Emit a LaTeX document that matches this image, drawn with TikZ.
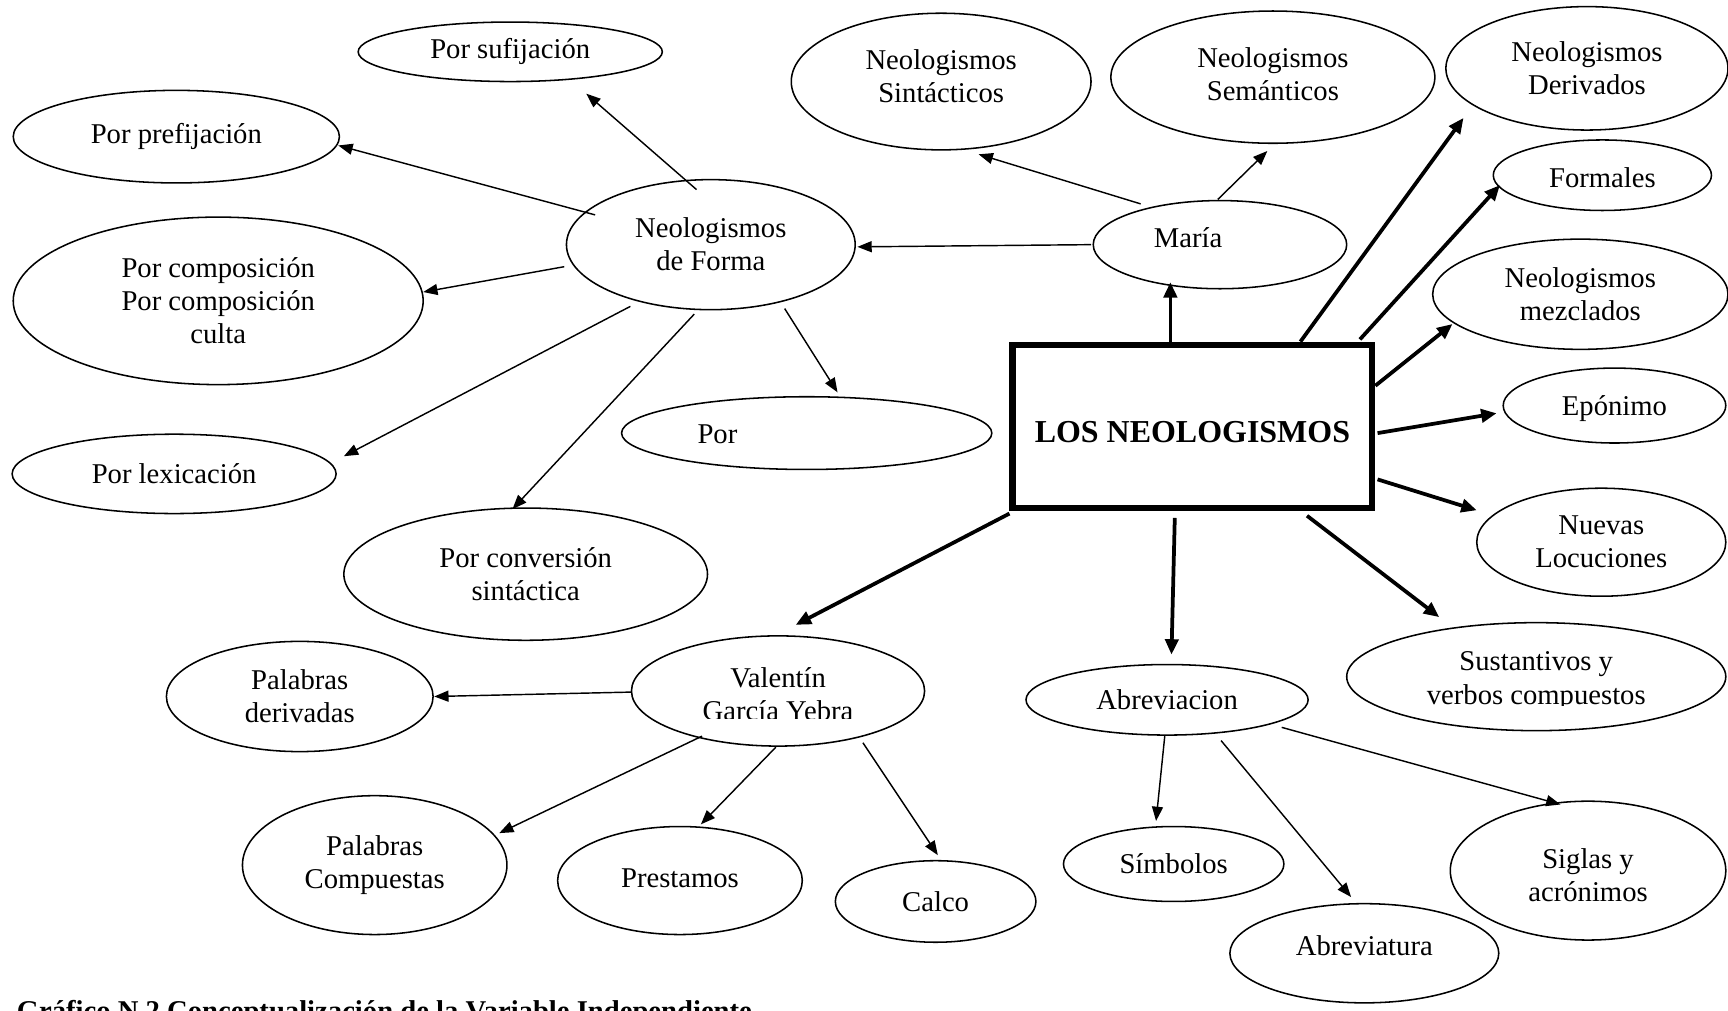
\documentclass[tikz,border=0pt]{standalone}
\usepackage{fontspec}
\setmainfont{Liberation Serif}
\usetikzlibrary{shapes.geometric,arrows.meta,calc}
\begin{document}
\begin{tikzpicture}[x=1pt,y=-1pt,
  bubble/.style={ellipse,draw,line width=1.4pt,inner sep=0pt,align=center,
    font=\fontsize{26}{30}\selectfont},
  txt/.style={font=\fontsize{26}{30}\selectfont,align=center,inner sep=0pt},
  thinarrow/.style={line width=1.3pt,-{Triangle[length=13pt,width=10pt]}},
  thickarrow/.style={line width=3.4pt,-{Triangle[length=14pt,width=12pt]}}]
\useasboundingbox (0,0) rectangle (1568,917);

% central box
\node[draw,line width=6pt,minimum width=326pt,minimum height=148pt,inner sep=0pt,
  label={[inner sep=0pt,font=\bfseries\fontsize{29}{30}\selectfont,yshift=-5pt]center:LOS NEOLOGISMOS}]
  (main) at (1082,387) {};

% left branch: formal neologisms
\node[bubble,minimum width=262pt,minimum height=118pt] (neoforma) at (645,222) {Neologismos\\de Forma};
\node[bubble,minimum width=276pt,minimum height=54pt] (sufij) at (463,47) {Por sufijación};
\node[bubble,minimum width=296pt,minimum height=84pt] (prefij) at (160,124) {Por prefijación};
\node[bubble,minimum width=372pt,minimum height=152pt] (compos) at (198,273) {Por composición\\Por composición\\culta};
\node[bubble,minimum width=294pt,minimum height=72pt] (lexic) at (158,430) {Por lexicación};
\node[bubble,minimum width=330pt,minimum height=120pt] (convers) at (477,521) {Por conversión\\sintáctica};
\node[bubble,minimum width=336pt,minimum height=66pt,
  label={[txt,xshift=-81pt,yshift=-1pt]center:Por}] (por) at (732,393) {};

% upper branch
\node[bubble,minimum width=230pt,minimum height=80pt,
  label={[txt,xshift=-29pt,yshift=6pt]center:María}] (maria) at (1107,222) {};
\node[bubble,minimum width=272pt,minimum height=124pt,
  label={[txt,yshift=5pt]center:{Neologismos\\Sintácticos}}] (sint) at (854,74) {};
\node[bubble,minimum width=294pt,minimum height=120pt,
  label={[txt,yshift=3pt]center:{Neologismos\\Semánticos}}] (sem) at (1155,70) {};

% right branch
\node[bubble,minimum width=256pt,minimum height=112pt] (deriv) at (1440,62) {Neologismos\\Derivados};
\node[bubble,minimum width=198pt,minimum height=64pt,
  label={[txt,yshift=-2pt]center:Formales}] (formales) at (1454,159) {};
\node[bubble,minimum width=268pt,minimum height=100pt] (mezcl) at (1434,267) {Neologismos\\mezclados};
\node[bubble,minimum width=202pt,minimum height=68pt,
  label={[txt,yshift=-3pt]center:Epónimo}] (epon) at (1465,368) {};
\node[bubble,minimum width=226pt,minimum height=98pt] (nuevas) at (1453,492) {Nuevas\\Locuciones};
\node[bubble,minimum width=344pt,minimum height=98pt,
  label={[txt,yshift=-4pt]center:{Sustantivos y\\verbos compuestos}}] (sust) at (1394,614) {};

% lower branch
\node[bubble,minimum width=266pt,minimum height=100pt,
  label={[txt,yshift=-3pt]center:{Valentín\\García Yebra}}] (valentin) at (706,627) {};
\node[bubble,minimum width=242pt,minimum height=100pt] (palderiv) at (272,632) {Palabras\\derivadas};
\node[bubble,minimum width=240pt,minimum height=126pt] (palcomp) at (340,785) {Palabras\\Compuestas};
\node[bubble,minimum width=222pt,minimum height=98pt,
  label={[txt,yshift=2pt]center:Prestamos}] (prest) at (617,799) {};
\node[bubble,minimum width=182pt,minimum height=74pt] (calco) at (849,818) {Calco};

\node[bubble,minimum width=256pt,minimum height=64pt] (abrev) at (1059,635) {Abreviacion};
\node[bubble,minimum width=200pt,minimum height=68pt] (simb) at (1065,784) {Símbolos};
\node[bubble,minimum width=244pt,minimum height=90pt,
  label={[txt,yshift=7pt]center:Abreviatura}] (abrevtura) at (1238,865) {};
\node[bubble,minimum width=250pt,minimum height=126pt,
  label={[txt,yshift=-4pt]center:{Siglas y\\acrónimos}}] (siglas) at (1441,790) {};

% text boxes that trim the lower edge of their lines
\fill[white] (632,652) rectangle (780,664);
\fill[white] (1292,641) rectangle (1494,650);

% clipped caption
\begin{scope}
\clip (0,0) rectangle (1568,917);
\node[anchor=base west,inner sep=0pt,font=\bfseries\fontsize{26}{30}\selectfont] (caption) at (15,926)
  {Gráfico N 2 Conceptualización de la Variable Independiente};
\end{scope}

% connectors from "Neologismos de Forma"
\draw[thinarrow] ($(neoforma)+(-13,-50)$) -- ($(sufij)+(69,38)$);
\draw[thinarrow] ($(neoforma)+(-105,-27)$) -- ($(prefij)+(147,8)$);
\draw[thinarrow] ($(neoforma)+(-133,20)$) -- ($(compos)+(186,-8)$);
\draw[thinarrow] ($(neoforma)+(-73,56)$) -- ($(lexic)+(154,-16)$);
\draw[thinarrow] ($(neoforma)+(-15,63)$) -- ($(convers)+(-12,-59)$);
\draw[thinarrow] ($(neoforma)+(67,58)$) -- ($(por)+(28,-37)$);

% connectors from "María"
\draw[thinarrow] ($(maria)+(-117,0)$) -- ($(neoforma)+(133,2)$);
\draw[thinarrow] ($(maria)+(-72,-37)$) -- ($(sint)+(34,66)$);
\draw[thinarrow] ($(maria)+(-2,-41)$) -- ($(sem)+(-5,67)$);

% connectors from the central box
\draw[thickarrow] ($(main)+(-20,-77)$) -- ($(maria)+(-45,34)$);
\draw[thickarrow] ($(main)+(98,-77)$) -- ($(deriv)+(-112,45)$);
\draw[thickarrow] ($(main)+(152,-79)$) -- ($(formales)+(-93,9)$);
\draw[thickarrow] ($(main)+(166,-37)$) -- ($(mezcl)+(-116,27)$);
\draw[thickarrow] ($(main)+(168,6)$) -- ($(epon)+(-107,7)$);
\draw[thickarrow] ($(main)+(168,48)$) -- ($(nuevas)+(-113,-29)$);
\draw[thickarrow] ($(main)+(104,81)$) -- ($(sust)+(-88,-54)$);
\draw[thickarrow] ($(main)+(-16,83)$) -- ($(abrev)+(4,-41)$);
\draw[thickarrow] ($(main)+(-166,79)$) -- ($(valentin)+(16,-60)$);

% connectors from "Valentín García Yebra"
\draw[thinarrow] ($(valentin)+(-133,1)$) -- ($(palderiv)+(122,0)$);
\draw[thinarrow] ($(valentin)+(-69,41)$) -- ($(palcomp)+(113,-29)$);
\draw[thinarrow] ($(valentin)+(-2,51)$) -- ($(prest)+(19,-51)$);
\draw[thinarrow] ($(valentin)+(77,47)$) -- ($(calco)+(2,-42)$);

% connectors from "Abreviacion"
\draw[thinarrow] ($(abrev)+(-2,32)$) -- ($(simb)+(-16,-39)$);
\draw[thinarrow] ($(abrev)+(49,37)$) -- ($(abrevtura)+(-12,-51)$);
\draw[thinarrow] ($(abrev)+(104,25)$) -- ($(siglas)+(-25,-60)$);
\end{tikzpicture}
\end{document}
